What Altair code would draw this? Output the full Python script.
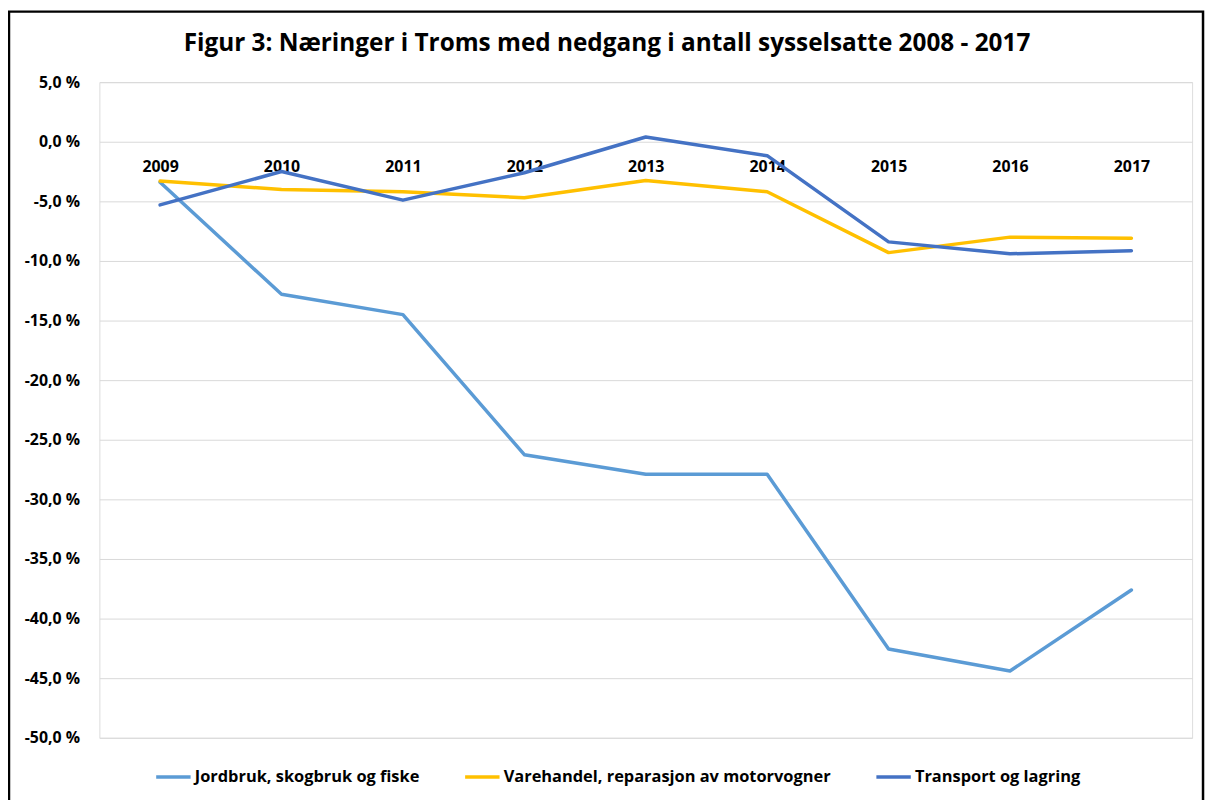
import altair as alt
import pandas as pd

years = ["2009", "2010", "2011", "2012", "2013", "2014", "2015", "2016", "2017"]
series_names = [
    "Jordbruk, skogbruk og fiske",
    "Varehandel, reparasjon av motorvogner",
    "Transport og lagring",
]
jordbruk = [-3.4, -12.8, -14.5, -26.25, -27.9, -27.9, -42.55, -44.4, -37.6]
varehandel = [-3.3, -4.0, -4.2, -4.7, -3.25, -4.2, -9.3, -8.0, -8.1]
transport = [-5.3, -2.5, -4.9, -2.6, 0.4, -1.17, -8.4, -9.4, -9.15]
colors = ["#5B9BD5", "#FFC000", "#4472C4"]
y_ticks = [5, 0, -5, -10, -15, -20, -25, -30, -35, -40, -45, -50]
title_text = "Figur 3: Næringer i Troms med nedgang i antall sysselsatte 2008 - 2017"

rows = []
for order, (name, vals) in enumerate(zip(series_names, [jordbruk, varehandel, transport])):
    for yr, v in zip(years, vals):
        rows.append({"year": yr, "value": v, "series": name, "order": order})
df = pd.DataFrame(rows)

FONT = "Open Sans"

y_label_expr = "(datum.value < 0 ? '-' : '') + replace(format(abs(datum.value), '.1f'), '.', ',') + ' %'"

lines = alt.Chart(df).mark_line(strokeWidth=3.5, strokeCap="round", strokeJoin="round").encode(
    x=alt.X("year:O", sort=years, title=None,
            scale=alt.Scale(paddingInner=0, paddingOuter=0.5),
            axis=alt.Axis(orient="bottom", offset=-600, domain=False, ticks=False,
                          labelAngle=0, labelFont=FONT, labelFontWeight="bold",
                          labelFontSize=16, labelColor="#000000", labelPadding=17,
                          grid=False)),
    y=alt.Y("value:Q", title=None,
            scale=alt.Scale(domain=[-50, 5], nice=False, zero=False),
            axis=alt.Axis(values=y_ticks, labelExpr=y_label_expr, domain=False, ticks=False,
                          labelFont=FONT, labelFontWeight="bold", labelFontSize=16,
                          labelColor="#000000", labelPadding=20,
                          grid=True, gridColor="#D9D9D9", gridWidth=1)),
    color=alt.Color("series:N", sort=series_names,
                    scale=alt.Scale(domain=series_names, range=colors),
                    legend=alt.Legend(title=None, orient="none", direction="horizontal",
                                      legendX=55, legendY=680,
                                      symbolType="stroke", symbolStrokeWidth=3.5,
                                      symbolSize=1200, labelFont=FONT, labelFontWeight="bold",
                                      labelFontSize=16.5, labelColor="#000000", labelLimit=0,
                                      labelOffset=2, columnPadding=38)),
    order=alt.Order("order:Q"),
    detail="series:N",
)

deco_df = pd.DataFrame({"t": [title_text]})
border = alt.Chart(deco_df).mark_rect(filled=False, stroke="#000000", strokeWidth=2.5).encode(
    x=alt.value(-91), x2=alt.value(1111), y=alt.value(-71), y2=alt.value(740)
)
title = alt.Chart(deco_df).mark_text(font=FONT, fontWeight="bold", fontSize=24.5,
                                     color="#000000", align="center", baseline="alphabetic").encode(
    text="t:N", x=alt.value(511), y=alt.value(-31)
)

chart = alt.layer(border, title, lines).properties(
    width=1100,
    height=660,
    autosize=alt.AutoSizeParams(type="none"),
    padding={"left": 92, "top": 72, "right": 15, "bottom": 60},
).configure_view(stroke=None).configure(background="#ffffff")

chart.save("out.html", embed_options={"renderer": "svg", "actions": False})
